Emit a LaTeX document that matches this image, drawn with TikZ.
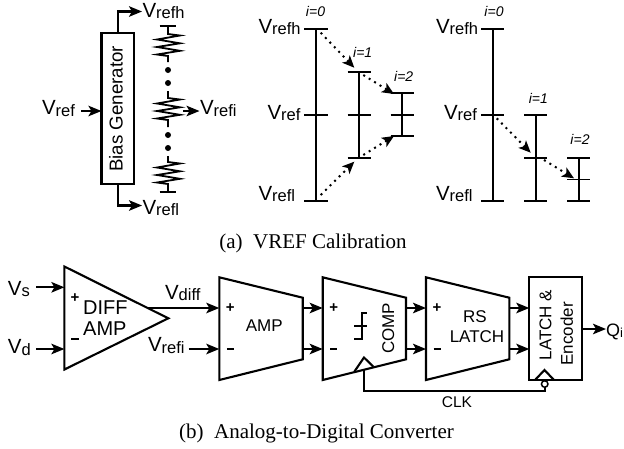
\documentclass[tikz,border=0pt]{standalone}
\usepackage{fontspec}
\setmainfont{Liberation Sans}
\newfontfamily\capfont{Liberation Serif}
\usetikzlibrary{arrows.meta}
\newcommand{\fsz}[1]{\fontsize{#1}{#1}\selectfont}
\newcommand{\VV}[2]{{\fsz{20.5}#1}\raisebox{-1.8pt}{\fsz{16.5}#2}}
\tikzset{
  x=1pt,y=-1pt,
  wire/.style={line width=2.1pt,line cap=butt,line join=miter},
  arr/.style={wire,-{Stealth[length=13pt,width=10.5pt,inset=3pt]}},
  dotarr/.style={line width=2pt,dash pattern=on 2pt off 4.4pt,-{Stealth[length=12pt,width=10.5pt,inset=3pt]}},
  tick/.style={line width=2.1pt},
  block/.style={wire,draw=black,fill=white},
  lab/.style={anchor=base west,inner sep=0pt,outer sep=0pt},
  idx/.style={anchor=base,inner sep=0pt,font=\fsz{14}\itshape},
  sign/.style={inner sep=0pt,font=\fsz{15}\bfseries},
  txt/.style={anchor=base,inner sep=0pt,font=\fsz{17}},
  rot/.style={rotate=90,anchor=center,inner sep=0pt,font=\fsz{17}},
  captxt/.style={anchor=base,inner sep=0pt,font=\fsz{21}\capfont},
  ddot/.style={circle,fill=black,inner sep=0pt,minimum size=6pt}
}
\newcommand{\res}[1]{% zigzag from y=#1 to y=#1+22 at x=168
  (168,#1) -- (180,#1+1.5) -- (157,#1+5.5) -- (180,#1+9.3) -- (157,#1+13) -- (180,#1+16.8) -- (157,#1+20.5) -- (168,#1+22)}
\newcommand{\ladder}[6]{% name x ytop ymid ybot midwidth
  \coordinate (#1t) at (#2,#3); \coordinate (#1m) at (#2,#4); \coordinate (#1b) at (#2,#5);
  \draw[tick] (#1t) -- (#1b);
  \draw[tick] ([xshift=-11.6pt]#1t) -- ([xshift=11.6pt]#1t);
  \draw[tick,line width=#6] ([xshift=-11.6pt]#1m) -- ([xshift=11.6pt]#1m);
  \draw[tick] ([xshift=-11.6pt]#1b) -- ([xshift=11.6pt]#1b);}
\begin{document}
\begin{tikzpicture}
\useasboundingbox (0,0) rectangle (624,448);
% Bias generator
\node[draw,wire,minimum width=32.5pt,minimum height=151pt,inner sep=0pt,outer sep=0pt] (bias) at (117.7,108.5) {};
\node[rot,font=\fsz{18.7}] (biast) at (116,109) {Bias Generator};
\node[lab] (vr0) at (42,114.5) {\VV{V}{ref}};
\coordinate (vr0e) at (81,111);
\coordinate (bl) at (bias.west|-vr0e);
\draw[arr] (vr0e) -- (bl);
\node[lab] (vh0) at (142.5,17) {\VV{V}{refh}};
\node[lab] (vl0) at (142.5,214) {\VV{V}{refl}};
\coordinate (bt) at (118,33); \coordinate (bb) at (118,184);
\coordinate (ht) at (142,11.5); \coordinate (lt) at (142,205.5);
\draw[arr] (bt) |- (ht);
\draw[arr] (bb) |- (lt);
% resistor chain
\draw[wire] (159.5,26) -- (175.5,26);
\draw[wire,line width=1.8pt] (168,26) -- \res{34} -- (168,62);
\draw[wire,line width=1.8pt] (168,91) -- \res{98} -- (168,127);
\draw[wire,line width=1.8pt] (168,156) -- \res{162} -- (168,192);
\draw[wire] (159.5,192) -- (175.5,192);
\node[ddot] (d1) at (168,70) {}; \node[ddot] (d2) at (168,83) {};
\node[ddot] (d3) at (168,135) {}; \node[ddot] (d4) at (168,148) {};
\coordinate (ra) at (183,111); \coordinate (rb) at (199.5,111);
\draw[arr] (ra) -- (rb);
\node[lab] (vi0) at (200,114.5) {\VV{V}{refi}};
% Ladder 1
\ladder{a}{316}{29}{115}{201}{2.1pt}
\ladder{b}{359.3}{72}{115}{158}{2.1pt}
\ladder{c}{402.3}{93}{115}{136}{2.1pt}
\coordinate (d1s) at (320.7,32.7); \coordinate (d1e) at (354.3,67.7);
\coordinate (d2s) at (363.3,75); \coordinate (d2e) at (394,94);
\coordinate (d3s) at (320.7,195); \coordinate (d3e) at (354.3,161.7);
\coordinate (d4s) at (363.3,155); \coordinate (d4e) at (394,136);
\draw[dotarr] (d1s) -- (d1e); \draw[dotarr] (d2s) -- (d2e);
\draw[dotarr] (d3s) -- (d3e); \draw[dotarr] (d4s) -- (d4e);
\node[lab] (v1h) at (258.5,33) {\VV{V}{refh}};
\node[lab] (v1m) at (267.5,119) {\VV{V}{ref}};
\node[lab] (v1l) at (258.5,200) {\VV{V}{refl}};
\node[idx] (i10) at (315.5,16) {i=0};
\node[idx] (i11) at (362.7,57) {i=1};
\node[idx] (i12) at (403.7,81) {i=2};
% Ladder 2
\ladder{e}{492.7}{29}{115}{201}{2.1pt}
\ladder{f}{535.7}{115}{158}{201}{2.1pt}
\ladder{g}{578.7}{158}{179.5}{201}{1.3pt}
\coordinate (d5s) at (496.7,118.3); \coordinate (d5e) at (530.7,152.7);
\coordinate (d6s) at (544,160); \coordinate (d6e) at (574,178.3);
\draw[dotarr] (d5s) -- (d5e); \draw[dotarr] (d6s) -- (d6e);
\node[lab] (v2h) at (436,33) {\VV{V}{refh}};
\node[lab] (v2m) at (444,119) {\VV{V}{ref}};
\node[lab] (v2l) at (436,200) {\VV{V}{refl}};
\node[idx] (i20) at (494,16) {i=0};
\node[idx] (i21) at (538.3,103) {i=1};
\node[idx] (i22) at (580,144) {i=2};
\node[captxt] (capa) at (313,248) {(a)\ \ VREF Calibration};
% Bottom chain
\draw[block] (64.4,266.5) coordinate (t1) -- (168.3,318.3) coordinate (t2) -- (64.4,369.5) coordinate (t3) -- cycle;
\node[lab] (vs) at (8,295) {\VV{V}{s}};
\node[lab] (vd) at (8,353.3) {\VV{V}{d}};
\coordinate (vsa) at (36,287.3); \coordinate (vda) at (36,349);
\draw[arr] (vsa) -- (vsa-|t1);
\draw[arr] (vda) -- (vda-|t1);
\node[sign] (p1) at (75,297.7) {+};
\node[sign] (m1) at (75,338.7) {\rule{8pt}{2pt}};
\node[anchor=base west,inner sep=0pt,font=\fsz{20}] (diff) at (83,314) {DIFF};
\node[anchor=base west,inner sep=0pt,font=\fsz{20}] (damp) at (83,335) {AMP};
% trapezoids
\newcommand{\trap}[3]{\draw[block] (#2,277.3) coordinate (#1a) -- (#3,297.7) coordinate (#1b) -- (#3,359.3) coordinate (#1c) -- (#2,380) coordinate (#1d) -- cycle;
  \coordinate (#1ip) at (#2,308); \coordinate (#1im) at (#2,349);
  \coordinate (#1op) at (#3,308); \coordinate (#1om) at (#3,349);
  \node[sign] (#1plus) at (#2+11,308) {+};
  \node[sign] (#1minus) at (#2+11,349) {\rule{7pt}{1.6pt}};}
\trap{A}{219.3}{302.7}
\trap{C}{322.7}{406}
\trap{R}{426}{509.3}
\coordinate (dout) at (148,308);
\draw[arr] (dout) -- (Aip);
\node[lab] (vdf) at (165,299) {\VV{V}{diff}};
\node[lab] (vri) at (148,351.7) {\VV{V}{refi}};
\coordinate (rin) at (188.5,349);
\draw[arr] (rin) -- (Aim);
\draw[arr] (Aop) -- (Cip); \draw[arr] (Aom) -- (Cim);
\draw[arr] (Cop) -- (Rip); \draw[arr] (Com) -- (Rim);
\node[anchor=center,inner sep=0pt,font=\fsz{17}] (ampt) at (264.3,326) {AMP};
\node[rot] (compt) at (388.3,328.3) {COMP};
\node[txt] (rs) at (475,322.7) {RS};
\node[txt] (lat) at (477,342.7) {LATCH};
\draw[wire,line width=1.7pt] (366.7,313.3) -- (361.7,313.3) -- (361.7,339.3) -- (354.3,339.3);
\draw[wire,line width=1.7pt] (354.3,326) -- (366.7,326);
% latch box
\node[draw,wire,minimum width=52.4pt,minimum height=103.3pt,inner sep=0pt,outer sep=0pt] (lbox) at (555.5,328.3) {};
\node[rot] (l1) at (545.5,325) {LATCH \&};
\node[rot] (l2) at (566.7,333.7) {Encoder};
\draw[arr] (Rop) -- (Rop-|lbox.west);
\draw[arr] (Rom) -- (Rom-|lbox.west);
\coordinate (qa) at (606,329);
\draw[arr] (lbox.east|-qa) -- (qa);
\node[lab] (q) at (606,336) {{\fsz{18}Q}\raisebox{-1.8pt}{\fsz{13}i}};
% clocks
\draw[wire] (354.3,371.7) -- (364,357.5) coordinate (ck1) -- (373.3,366.7);
\draw[wire] (535,380) -- (544.5,370) -- (554,380);
\node[draw,circle,line width=1.5pt,minimum size=6.5pt,inner sep=0pt,outer sep=0pt,fill=white] (bub) at (544.7,384) {};
\coordinate (ck0) at (364,369.7);
\coordinate (ckb) at (364,390.7);
\draw[wire] (ck0) -- (ckb) -- (ckb-|bub) -- (bub.south);
\node[anchor=base,inner sep=0pt,font=\fsz{15.5}] (clk) at (457,407.3) {CLK};
\node[captxt] (capb) at (316.5,438) {(b)\ \ Analog-to-Digital Converter};
\end{tikzpicture}
\end{document}
